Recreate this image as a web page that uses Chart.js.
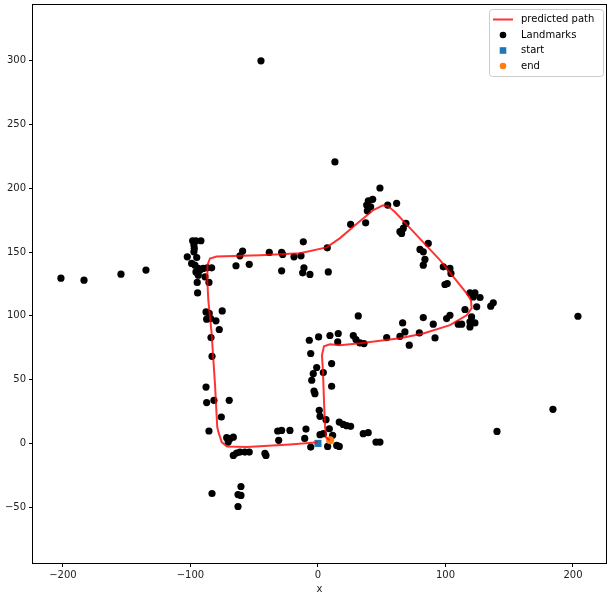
<!DOCTYPE html>
<html><head><meta charset="utf-8">
<script src="https://cdn.jsdelivr.net/npm/chart.js@4/dist/chart.umd.min.js"></script>
<style>html,body{margin:0;padding:0;background:#fff}#wrap{position:relative;width:612px;height:597px}</style>
</head><body><div id="wrap"><canvas id="c" width="612" height="597"></canvas></div>
<script>
const landmarkX = [
-44.7,-201.6,-183.5,-154.5,-134.9,13.3,48.6,203.9,184.3,140.4,-83.1,-60.4,-62.7,-60.4,-62.7,-41.6,-40.8,
-98.3,-95.7,-91.8,-97.3,-97.0,-97.3,-102.5,-95.1,-99.1,-96.5,-93.9,-95.7,-92.5,-90.0,-86.8,-83.4,-93.9,-88.6,-94.7,-85.5,-94.4,
-87.8,-85.3,-87.3,-84.2,-80.0,-75.1,-77.4,-83.9,-83.1,-87.8,-87.3,-81.6,-69.6,-75.8,-85.5,-71.6,-69.0,-66.4,-70.4,-66.4,-63.8,-61.2,-57.3,-53.9,-31.6,-28.5,-30.8,-22.0,
-59.1,-61.2,-64.3,-53.9,-38.2,-28.5,-27.7,-28.5,-18.8,-13.3,-11.5,-11.0,-12.0,-6.3,8.1,7.3,25.6,37.4,39.5,42.9,38.2,41.3,38.7,54.7,61.7,69.0,66.9,64.3,65.6,86.5,80.0,82.6,83.9,82.6,
98.3,103.5,104.3,101.4,99.6,119.2,123.1,121.8,127.1,124.5,137.5,135.5,115.3,120.5,119.2,123.1,112.7,110.0,119.2,100.9,103.5,82.6,90.4,66.4,68.2,64.3,79.5,91.8,71.6,
31.6,-6.8,0.5,9.4,15.9,27.7,15.5,29.8,32.9,36.1,53.9,-5.7,-1.0,-3.7,-4.9,4.2,10.7,10.7,-3.1,-2.4,1.0,1.6,6.3,16.7,19.8,22.5,25.6,-9.4,-10.4,1.6,8.9,11.5,4.2,35.5,39.4,45.5,48.6,-5.7,7.6,14.7,16.7
];
const landmarkY = [
300.0,129.6,128.0,132.7,135.9,220.7,200.3,99.7,26.7,9.4,-39.3,-33.8,-40.1,-40.8,-49.5,-7.9,-9.4,
158.9,158.9,158.9,155.5,152.9,150.2,146.3,145.8,141.1,139.8,137.2,134.5,135.9,137.2,137.7,137.7,131.9,130.6,126.2,126.2,118.0,
103.1,101.9,97.4,97.9,96.1,103.9,89.3,83.0,68.3,44.2,32.0,33.8,33.8,20.7,9.7,4.5,3.7,4.9,1.0,-9.4,-7.6,-6.8,-6.8,-6.8,9.7,10.2,2.4,10.2,
150.8,147.1,139.3,140.4,149.8,149.8,148.2,135.3,146.3,147.1,158.1,137.7,133.8,132.5,134.5,153.4,171.8,173.0,190.3,191.4,186.9,185.6,182.4,186.9,188.3,172.6,168.6,166.0,164.7,156.8,152.1,150.2,144.3,139.8,
138.5,137.2,133.3,125.4,124.6,118.0,118.0,114.9,114.4,107.1,110.2,107.6,105.0,99.2,95.3,94.5,93.5,93.5,91.3,97.9,100.5,98.7,93.5,94.5,87.4,84.0,86.6,82.7,77.0,
100.0,80.9,83.5,84.6,86.2,84.6,79.6,81.4,78.8,78.3,83.0,70.5,59.5,54.7,49.5,55.5,62.6,44.8,41.1,39.0,25.9,21.2,18.6,16.7,14.9,13.9,13.4,11.2,3.9,6.8,11.5,6.3,7.6,7.6,8.4,1.0,1.0,-2.9,-2.4,-1.6,-2.4
];
const pathX = [0,-22,-55.7,-71.4,-75.5,-78,-79,-80.8,-83.4,-86,-87,-86.7,-84.7,-79.5,-45.5,-14.1,6.8,17.3,27.7,43.4,51,55.1,60.4,72.2,95.7,116.6,120,120.5,116.6,103.5,82.6,64.3,33,17.3,9.4,4.7,3.1,3.9,4.7,5.5,6.3,9.2];
const pathY = [0.8,-0.8,-2.9,-2.4,1.0,8.6,12.8,46.9,86.2,112.3,132,139.8,145,146.6,147.6,149.2,153.7,161,169.9,183,186.7,185.9,181.4,168.8,143.7,117.6,112.3,106,100.5,92.7,86.2,82.5,78.5,77,77.8,76.2,69.1,57.3,33.8,14.1,4.7,2.4];
const startX = [0];
const startY = [0];
const endX = [9.5];
const endY = [2.4];
const xTicks = [-200,-100,0,100,200];
const yTicks = [-50,0,50,100,150,200,250,300];
const legendLabels = ['predicted path','Landmarks','start','end'];
const xTitle = 'x';

const toPts = (xs, ys) => xs.slice(0, Math.min(xs.length, ys.length)).map((v, i) => ({x: v, y: ys[i]}));
const FONT = 'DejaVu Sans';
const RED = 'rgba(255,0,0,0.8)';
const BLUE = '#1f77b4';
const ORANGE = '#ff7f0e';
const fmt = v => (v < 0 ? '\u2212' + Math.abs(v) : String(v));

const framePlugin = {
  id: 'frame',
  afterDraw(chart) {
    const ctx = chart.ctx, a = chart.chartArea;
    ctx.save();
    ctx.strokeStyle = '#000';
    ctx.lineWidth = 1;
    ctx.strokeRect(Math.round(a.left) - 0.5, Math.round(a.top) - 0.5, Math.round(a.right - a.left) + 1, Math.round(a.bottom - a.top) + 1);
    // legend
    const lx = 489.5, ly = 9.5, lw = 114, lh = 67, r = 3;
    ctx.beginPath();
    ctx.moveTo(lx + r, ly);
    ctx.lineTo(lx + lw - r, ly); ctx.quadraticCurveTo(lx + lw, ly, lx + lw, ly + r);
    ctx.lineTo(lx + lw, ly + lh - r); ctx.quadraticCurveTo(lx + lw, ly + lh, lx + lw - r, ly + lh);
    ctx.lineTo(lx + r, ly + lh); ctx.quadraticCurveTo(lx, ly + lh, lx, ly + lh - r);
    ctx.lineTo(lx, ly + r); ctx.quadraticCurveTo(lx, ly, lx + r, ly);
    ctx.closePath();
    ctx.fillStyle = 'rgba(255,255,255,0.8)';
    ctx.fill();
    ctx.strokeStyle = '#cccccc';
    ctx.stroke();
    const rows = [19.5, 35, 50.5, 66];
    const mx = 503;
    ctx.strokeStyle = RED; ctx.lineWidth = 2;
    ctx.beginPath(); ctx.moveTo(493, rows[0]); ctx.lineTo(513, rows[0]); ctx.stroke();
    ctx.fillStyle = '#000';
    ctx.beginPath(); ctx.arc(mx, rows[1], 3.3, 0, Math.PI * 2); ctx.fill();
    ctx.fillStyle = BLUE;
    ctx.fillRect(mx - 3.3, rows[2] - 3.3, 6.6, 6.6);
    ctx.fillStyle = ORANGE;
    ctx.beginPath(); ctx.arc(mx, rows[3], 3.3, 0, Math.PI * 2); ctx.fill();
    ctx.fillStyle = '#000';
    ctx.font = '10px "' + FONT + '"';
    ctx.textBaseline = 'middle';
    ctx.textAlign = 'left';
    legendLabels.forEach((t, i) => ctx.fillText(t, 521, rows[i]));
    ctx.restore();
  }
};

new Chart(document.getElementById('c'), {
  type: 'scatter',
  data: {
    datasets: [
      {label: legendLabels[0], data: toPts(pathX, pathY), showLine: true, borderColor: RED, borderWidth: 2, pointRadius: 0, fill: false, order: 0},
      {label: legendLabels[3], data: toPts(endX, endY), backgroundColor: ORANGE, borderColor: ORANGE, borderWidth: 0, pointRadius: 4, order: 1},
      {label: legendLabels[2], data: toPts(startX, startY), pointStyle: 'rect', backgroundColor: BLUE, borderColor: BLUE, borderWidth: 0, pointRadius: 5, order: 2},
      {label: legendLabels[1], data: toPts(landmarkX, landmarkY), backgroundColor: '#000', borderColor: '#000', borderWidth: 0, pointRadius: 3.6, order: 3}
    ]
  },
  options: {
    responsive: false,
    animation: false,
    events: [],
    layout: {padding: {left: 0, right: 6, top: 5, bottom: 0}},
    plugins: {legend: {display: false}, tooltip: {enabled: false}},
    scales: {
      x: {
        type: 'linear', min: -223.5, max: 225.9,
        afterBuildTicks: s => { s.ticks = xTicks.map(v => ({value: v})); },
        afterFit: s => { s.height = 34; s.paddingLeft = 0; s.paddingRight = 0; },
        grid: {display: true, drawOnChartArea: false, drawTicks: true, tickLength: 4, color: '#000', lineWidth: 1},
        border: {display: false},
        ticks: {padding: 2, color: '#222', font: {family: FONT, size: 10}, callback: v => fmt(v), maxRotation: 0, autoSkip: false},
        title: {display: true, text: xTitle, color: '#222', font: {family: FONT, size: 10}, padding: {top: 0, bottom: 2}}
      },
      y: {
        type: 'linear', min: -93.8, max: 343.8,
        afterBuildTicks: s => { s.ticks = yTicks.map(v => ({value: v})); },
        afterFit: s => { s.width = 33; s.paddingTop = 0; s.paddingBottom = 0; },
        grid: {display: true, drawOnChartArea: false, drawTicks: true, tickLength: 4, color: '#000', lineWidth: 1},
        border: {display: false},
        ticks: {padding: 3, color: '#222', font: {family: FONT, size: 10}, callback: v => fmt(v), autoSkip: false}
      }
    }
  },
  plugins: [framePlugin]
});
</script>
</body></html>
